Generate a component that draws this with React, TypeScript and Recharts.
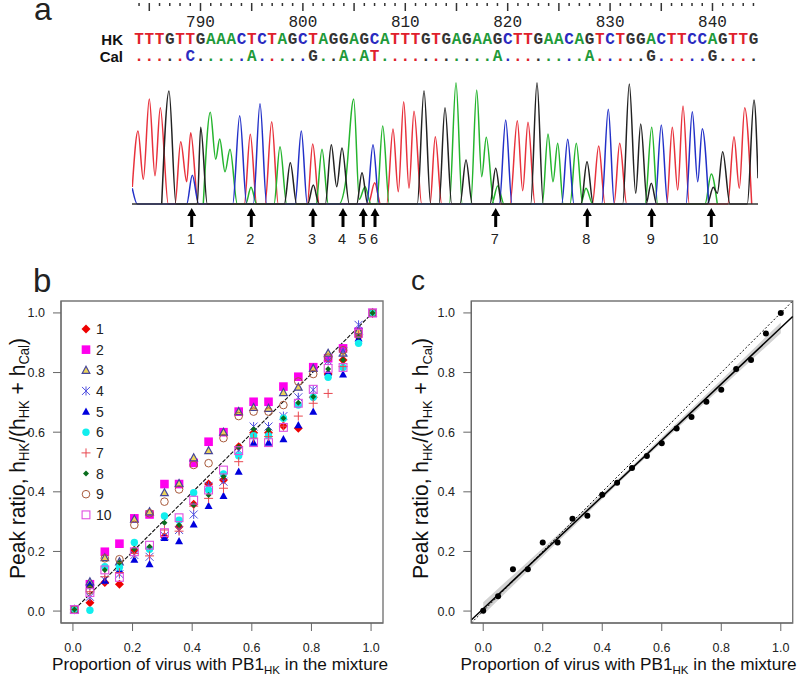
import {
  ComposedChart, ScatterChart, Scatter, Line, Area, XAxis, YAxis,
  ReferenceArea, ReferenceLine, Legend, Label,
} from 'recharts';

const SANS = '"Liberation Sans", Arial, sans-serif';
const MONO = '"Liberation Mono", monospace';

// panel a, sequence rows
const firstBase = 784;
const hkSeq = 'TTTGTTGAAACTCTAGCTAGGAGCATTTGTGAGAAGCTTGAACAGTCTGGACTTCCAGTTG';
const calSeq = '.....C.....A.....G..A.AT...........A........A.....G.....G....';
const baseColor: Record<string, string> = { T: '#e0202c', C: '#2a2ac0', A: '#1f9a3a', G: '#333333' };

// panel a, trace peaks as [scan position, height]
const redTrace = [
  [132.3, 17], [138, 73], [143.3, 24.7], [149.3, 105], [155, 28.3], [160.3, 96.3], [168.3, 0],
  [175, 0], [180.7, 62.3], [186.7, 22.3], [190.7, 71.3], [198.3, 0],
  [244.3, 0], [250.3, 69.7], [256.7, 0], [265, 0], [271.7, 82.3], [278.3, 0],
  [307.3, 0], [312.7, 60], [319.3, 0], [368.3, 0], [374.7, 21.3], [380.7, 0],
  [386.7, 0], [393, 75], [398.3, 12.3], [403.7, 102.3], [409, 15.7], [414, 92.7], [421.7, 0],
  [430, 0], [435.3, 67.3], [441.7, 0],
  [510, 0], [517.3, 83.3], [522.7, 13.3], [528, 81.7], [535, 0],
  [592.3, 0], [598.7, 58], [605, 0], [614, 0], [619.7, 60.7], [626.7, 0],
  [666.7, 0], [672.3, 76.7], [677.7, 14], [683, 98], [689.3, 0],
  [727.7, 0], [734, 67.3], [739.3, 15.7], [744.7, 96.3], [751.7, 0],
];
const blackTrace = [
  [161.7, 0], [169, 113], [176, 0], [197.3, 0], [200.7, 76.7], [207.3, 0],
  [284.3, 0], [290.3, 41.3], [296.7, 0], [307.7, 0], [313.3, 19], [319, 0],
  [325.3, 0], [331.3, 59.3], [336.7, 17.3], [342, 56], [349.3, 0],
  [356.7, 0], [362, 31.3], [367.7, 0], [417.3, 0], [424, 113.3], [430.7, 0],
  [439, 0], [445, 96.3], [451.7, 0], [460, 0], [466, 44], [472.3, 0],
  [490, 0], [495.7, 35.7], [501.7, 0], [530.7, 0], [537, 121.3], [543.3, 0],
  [581, 0], [587, 42.3], [593.3, 0],
  [622.7, 0], [629.3, 120], [635.7, 10.7], [640.7, 80], [647.3, 0],
  [646, 0], [651.3, 20.7], [656.7, 0],
  [707.3, 0], [713.3, 16.7], [717.3, 10.7], [722.7, 52.3], [730, 0],
  [747.3, 0], [754, 104], [758, 25.7],
];
const greenTrace = [
  [203.3, 0], [210.3, 91.7], [215.7, 44.7], [219.7, 65], [225, 32.3], [230, 54.7], [237.3, 0],
  [245.7, 0], [251, 16.7], [256.7, 0], [274, 0], [280, 57.3], [286.7, 0],
  [316, 0], [322, 54.7], [328.3, 0],
  [339, 0], [345.3, 20], [353.7, 105], [359.3, 4.7], [365, 17.3], [371, 0],
  [376.7, 0], [382.7, 78], [389.3, 0],
  [449.3, 0], [456, 121.3], [462.3, 0],
  [470.7, 0], [476.7, 114], [481.7, 27.3], [486.3, 66.7], [494, 0],
  [491.7, 0], [497.7, 18], [504, 0],
  [542.3, 0], [548, 70], [553, 22.3], [557.7, 60.7], [563.3, 0],
  [570, 0], [576.3, 60.7], [582.7, 0], [580.7, 0], [586, 15.7], [592.7, 0],
  [645, 0], [651.7, 76.7], [657.7, 0], [705, 0], [711.3, 30], [717.3, 0],
];
const blueTrace = [
  [132.3, 15.7], [137.3, 0], [186.7, 0], [192.3, 28.7], [198.7, 0],
  [232.7, 0], [239.7, 88.3], [246.7, 0], [253.3, 0], [260, 100.3], [266.7, 0],
  [295, 0], [301.3, 73], [307.3, 0], [366.7, 0], [373, 59.3], [379.3, 0],
  [499.3, 0], [505.7, 84], [512, 0], [561.7, 0], [567.7, 64.7], [574, 0],
  [601.7, 0], [608.3, 94.7], [614.3, 0], [655, 0], [661.3, 79], [667.7, 0],
  [686, 0], [692.3, 92.3], [697.7, 22.3], [702.3, 75.3], [708.7, 0],
];
const arrowScan = [191.7, 251.3, 313, 343, 363.3, 375, 495.7, 587.3, 651.7, 711.3];

// panel b
const mixB = [0.005, 0.057, 0.107, 0.156, 0.206, 0.257, 0.307, 0.356, 0.405, 0.455, 0.505, 0.556, 0.606, 0.656, 0.706, 0.756, 0.806, 0.856, 0.906, 0.958, 1.005];
const ratio1 = [0.005, 0.028, 0.096, 0.09, 0.205, 0.21, 0.249, 0.283, 0.358, 0.426, 0.44, 0.551, 0.598, 0.598, 0.621, 0.613, 0.717, 0.795, 0.842, 0.92, 1];
const ratio2 = [0.005, 0.09, 0.199, 0.226, 0.311, 0.324, 0.426, 0.426, 0.497, 0.568, 0.6, 0.669, 0.702, 0.702, 0.753, 0.786, 0.818, 0.848, 0.881, 0.937, 1];
const ratio3 = [0.005, 0.098, 0.179, 0.165, 0.308, 0.333, 0.397, 0.428, 0.514, 0.538, 0.6, 0.669, 0.683, 0.68, 0.733, 0.751, 0.814, 0.865, 0.865, 0.94, 1];
const ratio4 = [0.005, 0.048, 0.104, 0.124, 0.188, 0.182, 0.253, 0.272, 0.324, 0.42, 0.434, 0.54, 0.619, 0.619, 0.654, 0.717, 0.742, 0.839, 0.87, 0.96, 1];
const ratio5 = [0.005, 0.09, 0.102, 0.138, 0.173, 0.158, 0.246, 0.235, 0.291, 0.353, 0.387, 0.468, 0.565, 0.565, 0.577, 0.624, 0.669, 0.8, 0.794, 0.915, 1];
const ratio6 = [0.005, 0.003, 0.149, 0.147, 0.23, 0.207, 0.319, 0.305, 0.397, 0.406, 0.46, 0.521, 0.588, 0.588, 0.647, 0.691, 0.717, 0.784, 0.817, 0.898, 1];
const ratio7 = [0.005, 0.065, 0.115, 0.129, 0.193, 0.185, 0.272, 0.268, 0.352, 0.378, 0.412, 0.501, 0.58, 0.585, 0.62, 0.654, 0.697, 0.73, 0.82, 0.926, 1];
const ratio8 = [0.005, 0.082, 0.138, 0.162, 0.208, 0.216, 0.296, 0.289, 0.356, 0.389, 0.451, 0.55, 0.61, 0.607, 0.647, 0.699, 0.719, 0.812, 0.842, 0.92, 1];
const ratio9 = [0.005, 0.07, 0.177, 0.174, 0.289, 0.328, 0.367, 0.408, 0.49, 0.496, 0.58, 0.654, 0.669, 0.669, 0.691, 0.77, 0.795, 0.85, 0.875, 0.934, 1];
const ratio10 = [0.005, 0.062, 0.138, 0.113, 0.199, 0.221, 0.263, 0.313, 0.372, 0.406, 0.473, 0.538, 0.565, 0.565, 0.616, 0.697, 0.744, 0.814, 0.817, 0.932, 1];
const allRatios = [ratio1, ratio2, ratio3, ratio4, ratio5, ratio6, ratio7, ratio8, ratio9, ratio10];

// panel c
const mixC = [0, 0.05, 0.1, 0.15, 0.2, 0.25, 0.3, 0.35, 0.4, 0.45, 0.5, 0.55, 0.6, 0.65, 0.7, 0.75, 0.8, 0.85, 0.9, 0.95, 1];
const ratioC = [0.001, 0.05, 0.14, 0.14, 0.23, 0.23, 0.31, 0.32, 0.39, 0.43, 0.48, 0.52, 0.563, 0.612, 0.651, 0.702, 0.742, 0.812, 0.842, 0.931, 1];
const bandX = [0, 0.25, 0.5, 0.75, 1];
const bandLow = [-0.012, 0.232, 0.472, 0.703, 0.932];
const bandHigh = [0.03, 0.256, 0.487, 0.727, 0.968];
const fitEnds = [{ x: -0.04, y: -0.03 }, { x: 1.04, y: 0.988 }];

const axisTicks = [0, 0.2, 0.4, 0.6, 0.8, 1];

function toRows(trace: number[][]) {
  return trace.map(([x, h]) => ({ x, h }));
}

function Marker({ k, cx, cy }: { k: number; cx: number; cy: number }) {
  switch (k) {
    case 1:
      return <path d={`M${cx},${cy - 4.5}L${cx + 4.5},${cy}L${cx},${cy + 4.5}L${cx - 4.5},${cy}Z`} fill="#ee0000" />;
    case 2:
      return <rect x={cx - 4.3} y={cy - 4.3} width={8.6} height={8.6} fill="#ff00ee" />;
    case 3:
      return <path d={`M${cx},${cy - 4}L${cx + 3.8},${cy + 3}L${cx - 3.8},${cy + 3}Z`} fill="#ecd45a" stroke="#45459a" strokeWidth={1.2} />;
    case 4:
      return (
        <path
          d={`M${cx - 4},${cy - 4}L${cx + 4},${cy + 4}M${cx - 4},${cy + 4}L${cx + 4},${cy - 4}M${cx},${cy - 4.5}L${cx},${cy + 4.5}`}
          stroke="#5050e0" strokeWidth={1} fill="none"
        />
      );
    case 5:
      return <path d={`M${cx},${cy - 4}L${cx + 4},${cy + 3.2}L${cx - 4},${cy + 3.2}Z`} fill="#0000dd" />;
    case 6:
      return <circle cx={cx} cy={cy} r={3.7} fill="#11eeee" />;
    case 7:
      return <path d={`M${cx - 4.5},${cy}L${cx + 4.5},${cy}M${cx},${cy - 4.5}L${cx},${cy + 4.5}`} stroke="#e8474f" strokeWidth={1} fill="none" />;
    case 8:
      return <path d={`M${cx},${cy - 3}L${cx + 3},${cy}L${cx},${cy + 3}L${cx - 3},${cy}Z`} fill="#0a6e1e" />;
    case 9:
      return <circle cx={cx} cy={cy} r={3.8} fill="none" stroke="#a85a3c" strokeWidth={1} />;
    default:
      return <rect x={cx - 3.9} y={cy - 3.9} width={7.8} height={7.8} fill="none" stroke="#e050e0" strokeWidth={1.1} />;
  }
}

function RatioLegend() {
  return (
    <svg width={60} height={212} style={{ display: 'block' }}>
      {allRatios.map((_, i) => (
        <g key={i}>
          <Marker k={i + 1} cx={8} cy={10 + i * 20.65} />
          <text x={18} y={15 + i * 20.65} fontSize={14} fontFamily={SANS} fill="#222">{i + 1}</text>
        </g>
      ))}
    </svg>
  );
}

function XTitle({ cx }: { cx: number }) {
  return (
    <text x={cx} y={400} textAnchor="middle" fontFamily={SANS} fontSize={17.2} fill="#111">
      Proportion of virus with PB1<tspan dy={4} fontSize={11.5}>HK</tspan><tspan dy={-4}> in the mixture</tspan>
    </text>
  );
}

function YTitle({ x, size }: { x: number; size: number }) {
  return (
    <text
      x={x} y={188.5} transform={`rotate(-90 ${x} 188.5)`} textAnchor="middle" fontFamily={SANS} fontSize={size} fill="#111"
      textLength={241} lengthAdjust="spacingAndGlyphs"
    >
      Peak ratio, h<tspan dy={4} fontSize={size * 0.62}>HK</tspan><tspan dy={-4}>/(h</tspan><tspan dy={4} fontSize={size * 0.62}>HK</tspan>
      <tspan dy={-4}> + h</tspan><tspan dy={4} fontSize={size * 0.62}>Cal</tspan><tspan dy={-4}>)</tspan>
    </text>
  );
}

function RulerTick({ x, payload }: any) {
  const b = payload.value;
  const long = b % 5 === 0;
  return (
    <g>
      <line x1={x} x2={x} y1={3} y2={long ? 11 : 6} stroke="#333" strokeWidth={1.5} />
      {b % 10 === 0 && (
        <text x={x} y={27} textAnchor="middle" fontFamily={MONO} fontSize={16} fill="#222">{b}</text>
      )}
    </g>
  );
}

function SequencePanel() {
  const bases = Array.from(hkSeq).map((_, i) => firstBase + i);
  const hkRows = bases.map((x, i) => ({ x, row: 2, ch: hkSeq[i], col: baseColor[hkSeq[i]] }));
  const calRows = bases.map((x, i) => ({ x, row: 1, ch: calSeq[i], col: baseColor[calSeq[i] === '.' ? hkSeq[i] : calSeq[i]] }));
  const letter = (p: any) => (
    <text x={p.cx} y={p.cy + 5} textAnchor="middle" fontFamily={MONO} fontWeight="bold" fontSize={16} fill={p.payload.col}>
      {p.payload.ch}
    </text>
  );
  return (
    <ScatterChart width={800} height={73} margin={{ top: 0, right: 5.6, bottom: 0, left: 0 }} style={{ position: 'absolute', left: 0, top: 0 }}>
      <XAxis
        dataKey="x" type="number" orientation="top" height={1} domain={[782.53, 848]} ticks={bases} interval={0}
        axisLine={false} tickLine={false} tick={RulerTick} allowDataOverflow
      />
      <YAxis
        dataKey="row" type="number" width={124} domain={[0, 4.294]} ticks={[1, 2]} interval={0} axisLine={false} tickLine={false}
        tickFormatter={(v: number) => (v === 2 ? 'HK' : 'Cal')} tickMargin={0} tickSize={1}
        tick={{ fontFamily: SANS, fontSize: 15, fontWeight: 'bold', fill: '#111' }}
      />
      <Scatter data={hkRows} shape={letter} isAnimationActive={false} />
      <Scatter data={calRows} shape={letter} isAnimationActive={false} />
    </ScatterChart>
  );
}

function TracePanel() {
  const arrowRows = arrowScan.map((x, i) => ({ x, h: 0, n: i + 1 }));
  const arrow = (p: any) => (
    <g>
      <path
        d={`M${p.cx},${p.cy + 4}L${p.cx + 4.5},${p.cy + 12}L${p.cx + 1.5},${p.cy + 12}L${p.cx + 1.5},${p.cy + 23}L${p.cx - 1.5},${p.cy + 23}L${p.cx - 1.5},${p.cy + 12}L${p.cx - 4.5},${p.cy + 12}Z`}
        fill="#000"
      />
      <text x={p.cx - 1} y={p.cy + 40} textAnchor="middle" fontFamily={SANS} fontSize={14.5} fill="#222">{p.payload.n}</text>
    </g>
  );
  return (
    <ComposedChart width={626} height={170} margin={{ top: 0, right: 0, bottom: 0, left: 0 }} style={{ position: 'absolute', left: 132, top: 80 }}>
      <XAxis dataKey="x" type="number" domain={[132, 758]} hide allowDataOverflow />
      <YAxis dataKey="h" type="number" domain={[-46, 124]} hide width={0} />
      <Line data={toRows(redTrace)} dataKey="h" type="monotoneX" stroke="#e8323c" strokeWidth={1.5} dot={false} isAnimationActive={false} />
      <Line data={toRows(greenTrace)} dataKey="h" type="monotoneX" stroke="#25b52e" strokeWidth={1.5} dot={false} isAnimationActive={false} />
      <Line data={toRows(blueTrace)} dataKey="h" type="monotoneX" stroke="#2230c8" strokeWidth={1.5} dot={false} isAnimationActive={false} />
      <Line data={toRows(blackTrace)} dataKey="h" type="monotoneX" stroke="#222" strokeWidth={1.5} dot={false} isAnimationActive={false} />
      <ReferenceLine y={0} stroke="#333" strokeWidth={1.4} />
      <Scatter data={arrowRows} shape={arrow} isAnimationActive={false} />
    </ComposedChart>
  );
}

function XTick({ x, payload }: any) {
  return <text x={x} y={381.5} textAnchor="middle" fontFamily={SANS} fontSize={12.5} fill="#222">{payload.value.toFixed(1)}</text>;
}

function yTick(right: number) {
  return ({ y, payload }: any) => (
    <text x={right} y={y + 4.5} textAnchor="end" fontFamily={SANS} fontSize={12.5} fill="#222">{payload.value.toFixed(1)}</text>
  );
}

const axisProps = {
  type: 'number' as const,
  domain: [-0.04, 1.04],
  ticks: axisTicks,
  allowDataOverflow: true,
  tickSize: 8,
  stroke: '#666',
  interval: 0 as const,
};

function RatioPanel() {
  return (
    <ScatterChart width={400} height={407} margin={{ top: 31, right: 17, bottom: 0, left: 0 }} style={{ position: 'absolute', left: 0, top: 270 }}>
      <XAxis dataKey="x" height={54} tick={XTick} {...axisProps}>
        <Label content={() => <XTitle cx={220} />} />
      </XAxis>
      <YAxis dataKey="y" width={61} tick={yTick(45)} {...axisProps}>
        <Label content={() => <YTitle x={24.5} size={22.5} />} />
      </YAxis>
      <ReferenceArea x1={-0.04} x2={1.04} y1={-0.04} y2={1.04} fill="none" stroke="#777" strokeWidth={1.4} />
      {allRatios.map((vals, i) => (
        <Scatter
          key={i}
          name={String(i + 1)}
          data={vals.map((y, j) => ({ x: mixB[j], y }))}
          shape={(p: any) => <Marker k={i + 1} cx={p.cx} cy={p.cy} />}
          isAnimationActive={false}
        />
      ))}
      <ReferenceLine segment={[{ x: 0.005, y: 0.005 }, { x: 1.005, y: 1 }]} stroke="#111" strokeWidth={1.1} strokeDasharray="4 1.5" />
      <Legend layout="vertical" align="center" verticalAlign="middle" content={RatioLegend} wrapperStyle={{ left: 78, top: 49, width: 60 }} />
    </ScatterChart>
  );
}

function PooledPanel() {
  const bandRows = bandX.map((x, i) => ({ x, band: [bandLow[i], bandHigh[i]] }));
  const dots = mixC.map((x, i) => ({ x, y: ratioC[i] }));
  return (
    <ComposedChart width={400} height={407} data={bandRows} margin={{ top: 31, right: 7.3, bottom: 0, left: 0 }} style={{ position: 'absolute', left: 400, top: 270 }}>
      <XAxis dataKey="x" height={54} tick={XTick} {...axisProps}>
        <Label content={() => <XTitle cx={228.5} />} />
      </XAxis>
      <YAxis dataKey="y" width={71.3} tick={yTick(55)} {...axisProps}>
        <Label content={() => <YTitle x={27.5} size={21.5} />} />
      </YAxis>
      <ReferenceArea x1={-0.04} x2={1.04} y1={-0.04} y2={1.04} fill="none" stroke="#777" strokeWidth={1.4} />
      <Area dataKey="band" type="linear" fill="#d2d2d2" fillOpacity={1} stroke="none" dot={false} activeDot={false} isAnimationActive={false} />
      <ReferenceLine segment={[{ x: -0.04, y: -0.04 }, { x: 1.04, y: 1.04 }]} stroke="#111" strokeWidth={1} strokeDasharray="2 2" />
      <ReferenceLine segment={fitEnds} stroke="#000" strokeWidth={1.5} />
      <Scatter data={dots} shape={(p: any) => <circle cx={p.cx} cy={p.cy} r={3} fill="#000" />} isAnimationActive={false} />
    </ComposedChart>
  );
}

function PanelLetter({ ch, x, y, size, line }: { ch: string; x: number; y: number; size: number; line: number }) {
  return <div style={{ position: 'absolute', left: x, top: y, fontFamily: SANS, fontSize: size, lineHeight: `${line}px`, color: '#222' }}>{ch}</div>;
}

export default function App() {
  return (
    <div style={{ position: 'absolute', left: 0, top: 0, width: 800, height: 677, background: '#fff', overflow: 'hidden' }}>
      <SequencePanel />
      <TracePanel />
      <RatioPanel />
      <PooledPanel />
      <PanelLetter ch="a" x={34} y={1} size={32} line={16} />
      <PanelLetter ch="b" x={33} y={265} size={33} line={32} />
      <PanelLetter ch="c" x={411} y={265} size={28} line={32} />
    </div>
  );
}
